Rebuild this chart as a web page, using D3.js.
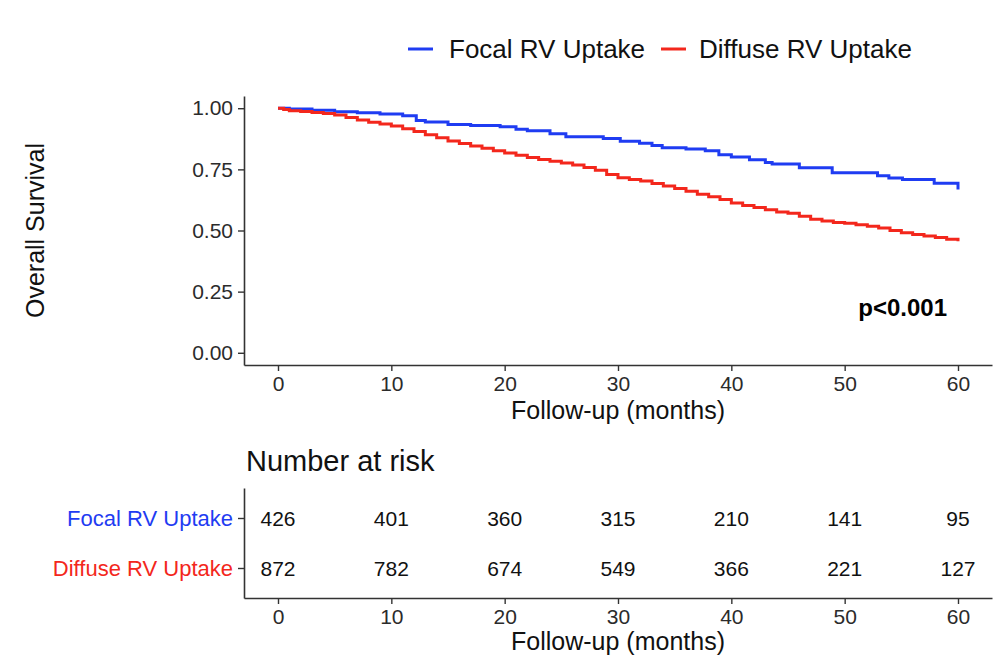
<!DOCTYPE html>
<html>
<head>
<meta charset="utf-8">
<script src="https://cdn.jsdelivr.net/npm/d3@7"></script>
<style>
  body { margin: 0; background: #fff; }
  svg { font-family: "Liberation Sans", Arial, sans-serif; }
</style>
</head>
<body>
<div id="chart"></div>
<script>
// Kaplan-Meier step points (months, survival)
const focalTimes = [0, 1, 3, 5, 7, 9, 11, 12.2, 13, 15, 17, 19.6, 21, 22, 24, 25.4, 28.7, 30.2, 31.9, 33, 33.9, 36, 37.7, 38.9, 40, 41.6, 43, 43.6, 46, 48.9, 52.9, 53.9, 55.1, 57.9, 60];
const focalSurv = [1.000, 0.997, 0.992, 0.986, 0.981, 0.976, 0.969, 0.950, 0.944, 0.933, 0.929, 0.924, 0.914, 0.908, 0.896, 0.883, 0.876, 0.865, 0.857, 0.848, 0.838, 0.833, 0.826, 0.810, 0.801, 0.789, 0.778, 0.772, 0.757, 0.736, 0.724, 0.715, 0.709, 0.693, 0.668];

const diffuseTimes = [0, 0.5, 1, 2, 3, 4, 5, 6, 7, 8, 9, 10, 11, 12, 13, 14, 15, 16, 17, 18, 19, 20, 21, 22, 23, 24, 25, 26, 27, 28, 29, 30, 31, 32, 33, 34, 35, 36, 37, 38, 39, 40, 41, 42, 43, 44, 45, 46, 47, 48, 49, 50, 51, 52, 53, 54, 55, 56, 57, 58, 59, 60];
const diffuseSurv = [1.000, 0.995, 0.990, 0.987, 0.983, 0.978, 0.972, 0.962, 0.952, 0.943, 0.936, 0.927, 0.916, 0.905, 0.892, 0.879, 0.866, 0.856, 0.846, 0.836, 0.826, 0.817, 0.808, 0.799, 0.790, 0.783, 0.776, 0.768, 0.758, 0.746, 0.729, 0.716, 0.709, 0.702, 0.692, 0.682, 0.672, 0.661, 0.648, 0.638, 0.627, 0.612, 0.602, 0.594, 0.585, 0.576, 0.571, 0.558, 0.546, 0.539, 0.533, 0.530, 0.524, 0.517, 0.510, 0.500, 0.491, 0.484, 0.478, 0.471, 0.464, 0.456];

const groups = ["Focal RV Uptake", "Diffuse RV Uptake"];
const groupColors = ["#1f3cf2", "#f3271c"];

const riskTimes = [0, 10, 20, 30, 40, 50, 60];
const focalRisk = [426, 401, 360, 315, 210, 141, 95];
const diffuseRisk = [872, 782, 674, 549, 366, 221, 127];

const xTicks = [0, 10, 20, 30, 40, 50, 60];
const yTicks = [0, 0.25, 0.5, 0.75, 1];

const width = 994, height = 662;
const axisColor = "#333";
const textColor = "#2b2b2b";

const svg = d3.select("#chart").append("svg")
  .attr("width", width)
  .attr("height", height);

const color = d3.scaleOrdinal().domain(groups).range(groupColors);

// main survival panel
const x = d3.scaleLinear().domain([-3, 63]).range([244, 992]);
const y = d3.scaleLinear().domain([-0.05, 1.05]).range([365, 96]);

const series = [
  { name: groups[0], pts: focalTimes.map((t, i) => [t, focalSurv[i]]) },
  { name: groups[1], pts: diffuseTimes.map((t, i) => [t, diffuseSurv[i]]) }
];

const line = d3.line()
  .x(d => x(d[0]))
  .y(d => y(d[1]))
  .curve(d3.curveStepAfter);

svg.selectAll("path.km")
  .data(series)
  .join("path")
  .attr("class", "km")
  .attr("fill", "none")
  .attr("stroke", d => color(d.name))
  .attr("stroke-width", 3)
  .attr("d", d => line(d.pts));

function styleAxis(g, size) {
  g.select(".domain").attr("stroke", axisColor).attr("stroke-width", 1.6);
  g.selectAll(".tick line").attr("stroke", axisColor).attr("stroke-width", 1.4);
  g.selectAll(".tick text")
    .attr("fill", textColor)
    .attr("font-size", size)
    .attr("font-family", "Liberation Sans, Arial, sans-serif");
}

svg.append("g")
  .attr("transform", "translate(0,365)")
  .call(d3.axisBottom(x).tickValues(xTicks).tickSize(6).tickSizeOuter(0).tickPadding(5))
  .call(g => styleAxis(g, 21));

svg.append("g")
  .attr("transform", "translate(244,0)")
  .call(d3.axisLeft(y).tickValues(yTicks).tickSize(6).tickSizeOuter(0).tickPadding(5).tickFormat(d3.format(".2f")))
  .call(g => styleAxis(g, 21));

svg.append("text")
  .attr("x", x(30))
  .attr("y", 419)
  .attr("text-anchor", "middle")
  .attr("font-size", 25)
  .attr("fill", "#111")
  .text("Follow-up (months)");

svg.append("text")
  .attr("transform", `translate(44,${y(0.5)}) rotate(-90)`)
  .attr("text-anchor", "middle")
  .attr("font-size", 25)
  .attr("fill", "#111")
  .text("Overall Survival");

svg.append("text")
  .attr("x", 947)
  .attr("y", 316)
  .attr("text-anchor", "end")
  .attr("font-size", 24)
  .attr("font-weight", "bold")
  .attr("fill", "#000")
  .text("p<0.001");

// legend
const legend = svg.selectAll(".legend")
  .data(groups)
  .join("g")
  .attr("class", "legend")
  .attr("transform", (d, i) => `translate(${i === 0 ? 408 : 661},49)`);

legend.append("line")
  .attr("x1", 0).attr("x2", 25)
  .attr("stroke", d => color(d))
  .attr("stroke-width", 3);

legend.append("text")
  .attr("x", (d, i) => i === 0 ? 41 : 38)
  .attr("y", 9)
  .attr("font-size", 26)
  .attr("fill", "#111")
  .text(d => d);

// risk table
svg.append("text")
  .attr("x", 246)
  .attr("y", 471)
  .attr("font-size", 29)
  .attr("fill", "#111")
  .text("Number at risk");

const yr = d3.scalePoint().domain(groups.slice().reverse()).range([598, 488]).padding(0.6);

const riskRows = [
  { name: groups[0], vals: focalRisk },
  { name: groups[1], vals: diffuseRisk }
];

const rows = svg.selectAll(".risk-row")
  .data(riskRows)
  .join("g")
  .attr("class", "risk-row");

rows.selectAll("text")
  .data(d => d.vals.map((v, i) => ({ t: riskTimes[i], v: v, name: d.name })))
  .join("text")
  .attr("x", d => x(d.t))
  .attr("y", d => yr(d.name))
  .attr("dy", "0.36em")
  .attr("text-anchor", "middle")
  .attr("font-size", 21)
  .attr("fill", "#111")
  .text(d => d.v);

svg.append("g")
  .attr("transform", "translate(0,598)")
  .call(d3.axisBottom(x).tickValues(xTicks).tickSize(6).tickSizeOuter(0).tickPadding(5))
  .call(g => styleAxis(g, 21));

const yrAxis = svg.append("g")
  .attr("transform", "translate(244,0)")
  .call(d3.axisLeft(yr).tickSize(6).tickSizeOuter(0).tickPadding(5))
  .call(g => styleAxis(g, 22));

yrAxis.selectAll(".tick text").attr("fill", d => color(d));

svg.append("text")
  .attr("x", x(30))
  .attr("y", 650)
  .attr("text-anchor", "middle")
  .attr("font-size", 25)
  .attr("fill", "#111")
  .text("Follow-up (months)");
</script>
</body>
</html>
